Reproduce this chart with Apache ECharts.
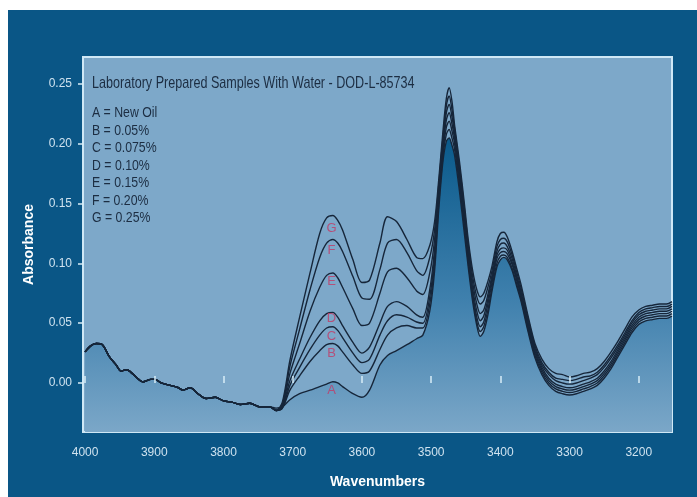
<!DOCTYPE html>
<html>
<head>
<meta charset="utf-8">
<script src="https://cdn.jsdelivr.net/npm/echarts@6/dist/echarts.min.js"></script>
<style>
html,body{margin:0;padding:0;background:#ffffff;}
#chart{width:697px;height:497px;}
</style>
</head>
<body>
<div id="chart"></div>
<script>
var wavenumbers = [4000,3992,3984,3975,3965,3955,3948,3940,3930,3916,3905,3899,3890,3877,3865,3859,3848,3837,3825,3812,3800,3788,3776,3762,3747,3733,
3724,3715,3704,3690,3675,3661,3651,3642,3635,3628,3613,3600,3589,3574,3563,3550,3535,3521,3512,3502,3495,3489,3483,3478,3474,3470,3466,3459,3452,3446,3440,3434,3429,3424,3418,3412,3405,3400,3395,3390,3383,3376,3370,3360,3350,3340,3330,3320,3310,3300,3290,3280,3270,3260,3250,3240,3230,3220,3210,3200,3190,3180,3170,3160,3152];

var seriesA = [0.026,0.031,0.033,0.032,0.022,0.015,0.010,0.011,0.007,0.001,0.003,0.003,0.000,-0.002,-0.004,-0.006,-0.004,-0.009,-0.013,-0.012,-0.015,-0.016,-0.018,-0.017,-0.020,-0.020,
-0.021,-0.020,-0.014,-0.009,-0.006,-0.003,-0.001,0.001,0.000,-0.003,-0.009,-0.012,-0.006,0.015,0.023,0.027,0.032,0.037,0.040,0.060,0.094,0.145,0.185,0.202,0.205,0.199,0.190,0.160,0.125,0.095,0.068,0.048,0.039,0.043,0.057,0.077,0.097,0.103,0.105,0.103,0.094,0.080,0.068,0.043,0.021,0.007,-0.002,-0.007,-0.009,-0.010,-0.009,-0.007,-0.005,-0.002,0.004,0.012,0.022,0.032,0.042,0.049,0.052,0.053,0.054,0.054,0.056];

var seriesB = [0.026,0.031,0.033,0.032,0.022,0.015,0.010,0.011,0.007,0.001,0.003,0.003,0.000,-0.002,-0.004,-0.006,-0.004,-0.009,-0.013,-0.012,-0.015,-0.016,-0.018,-0.017,-0.020,-0.020,
-0.023,-0.021,-0.006,0.006,0.018,0.027,0.032,0.033,0.031,0.026,0.015,0.008,0.010,0.028,0.040,0.046,0.048,0.046,0.046,0.066,0.100,0.150,0.189,0.208,0.212,0.205,0.195,0.165,0.130,0.099,0.072,0.051,0.043,0.047,0.061,0.080,0.100,0.106,0.107,0.105,0.096,0.082,0.070,0.045,0.023,0.009,0.000,-0.005,-0.007,-0.008,-0.007,-0.005,-0.003,0.000,0.006,0.014,0.024,0.034,0.044,0.051,0.054,0.055,0.056,0.056,0.058];

var seriesC = [0.026,0.031,0.033,0.032,0.022,0.015,0.010,0.011,0.007,0.001,0.003,0.003,0.000,-0.002,-0.004,-0.006,-0.004,-0.009,-0.013,-0.012,-0.015,-0.016,-0.018,-0.017,-0.020,-0.020,
-0.023,-0.021,-0.002,0.013,0.028,0.040,0.046,0.047,0.044,0.038,0.025,0.017,0.020,0.040,0.052,0.057,0.055,0.051,0.050,0.072,0.106,0.154,0.193,0.214,0.219,0.211,0.200,0.169,0.134,0.102,0.075,0.055,0.047,0.051,0.066,0.084,0.104,0.109,0.110,0.108,0.099,0.085,0.072,0.047,0.025,0.011,0.002,-0.003,-0.005,-0.006,-0.005,-0.003,-0.001,0.002,0.008,0.016,0.026,0.036,0.046,0.053,0.056,0.057,0.058,0.058,0.060];

var seriesD = [0.026,0.031,0.033,0.032,0.022,0.015,0.010,0.011,0.007,0.001,0.003,0.003,0.000,-0.002,-0.004,-0.006,-0.004,-0.009,-0.013,-0.012,-0.015,-0.016,-0.018,-0.017,-0.020,-0.020,
-0.023,-0.020,0.002,0.020,0.038,0.052,0.058,0.059,0.055,0.048,0.034,0.025,0.030,0.050,0.064,0.068,0.064,0.057,0.055,0.078,0.112,0.158,0.197,0.220,0.226,0.217,0.204,0.173,0.138,0.106,0.079,0.060,0.052,0.056,0.070,0.087,0.107,0.112,0.113,0.111,0.101,0.087,0.074,0.049,0.027,0.013,0.004,-0.001,-0.003,-0.004,-0.003,-0.001,0.001,0.004,0.010,0.018,0.028,0.038,0.048,0.055,0.058,0.059,0.060,0.060,0.062];

var seriesE = [0.026,0.031,0.033,0.032,0.022,0.015,0.010,0.011,0.007,0.001,0.003,0.003,0.000,-0.002,-0.004,-0.006,-0.004,-0.009,-0.013,-0.012,-0.015,-0.016,-0.018,-0.017,-0.020,-0.020,
-0.023,-0.019,0.008,0.033,0.060,0.080,0.090,0.092,0.088,0.080,0.062,0.048,0.050,0.075,0.093,0.096,0.088,0.077,0.074,0.092,0.120,0.162,0.201,0.226,0.233,0.223,0.208,0.177,0.142,0.110,0.084,0.066,0.058,0.061,0.074,0.090,0.110,0.116,0.117,0.114,0.104,0.089,0.076,0.051,0.029,0.015,0.007,0.002,0.000,-0.001,0.000,0.002,0.004,0.007,0.013,0.021,0.030,0.040,0.050,0.057,0.060,0.061,0.062,0.062,0.064];

var seriesF = [0.026,0.031,0.033,0.032,0.022,0.015,0.010,0.011,0.007,0.001,0.003,0.003,0.000,-0.002,-0.004,-0.006,-0.004,-0.009,-0.013,-0.012,-0.015,-0.016,-0.018,-0.017,-0.020,-0.020,
-0.023,-0.018,0.014,0.045,0.078,0.105,0.117,0.120,0.117,0.110,0.089,0.071,0.070,0.095,0.117,0.120,0.109,0.094,0.090,0.105,0.128,0.166,0.205,0.232,0.240,0.229,0.212,0.181,0.146,0.114,0.089,0.072,0.066,0.069,0.080,0.094,0.114,0.120,0.121,0.118,0.107,0.092,0.079,0.054,0.031,0.017,0.009,0.004,0.003,0.002,0.003,0.005,0.006,0.009,0.015,0.023,0.032,0.042,0.052,0.059,0.062,0.063,0.064,0.064,0.066];

var seriesG = [0.026,0.031,0.033,0.032,0.022,0.015,0.010,0.011,0.007,0.001,0.003,0.003,0.000,-0.002,-0.004,-0.006,-0.004,-0.009,-0.013,-0.012,-0.015,-0.016,-0.018,-0.017,-0.020,-0.020,
-0.023,-0.016,0.019,0.055,0.092,0.125,0.138,0.140,0.136,0.128,0.103,0.084,0.086,0.117,0.139,0.135,0.120,0.105,0.104,0.115,0.135,0.170,0.210,0.238,0.247,0.236,0.215,0.185,0.150,0.118,0.094,0.078,0.072,0.075,0.085,0.098,0.118,0.125,0.126,0.122,0.110,0.095,0.082,0.056,0.033,0.020,0.012,0.008,0.007,0.005,0.006,0.008,0.009,0.012,0.018,0.026,0.035,0.045,0.055,0.061,0.064,0.065,0.066,0.066,0.068];

var curveLetters = ['A','B','C','D','E','F','G'];
var letterX = [3644,3644,3644,3644,3644,3644,3644];
var letterY = [-0.006,0.025,0.039,0.054,0.085,0.111,0.129];

var legendLines = ['A = New Oil','B = 0.05%','C = 0.075%','D = 0.10%','E = 0.15%','F = 0.20%','G = 0.25%'];
var titleText = 'Laboratory Prepared Samples With Water - DOD-L-85734';
var xTicks = [4000,3900,3800,3700,3600,3500,3400,3300,3200];
var yTicks = [0.00,0.05,0.10,0.15,0.20,0.25];

var FONT = '"Liberation Sans","Arial",sans-serif';

function pairs(arr){ return wavenumbers.map(function(w,i){ return [w, arr[i]]; }); }

var chart = echarts.init(document.getElementById('chart'), null, {renderer:'canvas'});

var lineColor = '#16263a';
var allSeries = [seriesA,seriesB,seriesC,seriesD,seriesE,seriesF,seriesG];
var series = allSeries.map(function(arr, i){
  var s = {
    name: curveLetters[i],
    type: 'line',
    data: pairs(arr),
    showSymbol: false,
    smooth: 0.3,
    lineStyle: {color: lineColor, width: 1.4},
    z: 3 + i,
    silent: true
  };
  if (i === 0) {
    s.areaStyle = {
      origin: 'start',
      color: new echarts.graphic.LinearGradient(0,0,0,1,[
        {offset:0, color:'#0a5a8b'},
        {offset:0.55, color:'#3f80ad'},
        {offset:1, color:'#7ba7c8'}
      ]),
      opacity: 1
    };
  }
  return s;
});

series.push({
  type: 'scatter',
  symbolSize: 0,
  z: 20,
  silent: true,
  data: curveLetters.map(function(l,i){ return [letterX[i], letterY[i], l]; }),
  label: {
    show: true,
    position: 'inside',
    formatter: function(p){ return p.value[2]; },
    color: '#c23a66',
    fontFamily: FONT,
    fontSize: 13
  }
});

var graphics = [
  {type:'rect', shape:{x:8,y:10,width:689,height:487}, style:{fill:'#0a5686'}, z:-10, silent:true},
  {type:'text', x: 92, y: 83, scaleX: 0.74, z: 50, silent:true,
   style:{text: titleText, fill:'#1c2d42', font: '17px ' + FONT, verticalAlign:'middle', align:'left'}}
];
legendLines.forEach(function(t,i){
  graphics.push({type:'text', x: 92, y: 113 + i*17.5, scaleX: 0.82, z: 50, silent:true,
    style:{text: t, fill:'#1c2d42', font: '15px ' + FONT, verticalAlign:'middle', align:'left'}});
});

chart.setOption({
  animation: false,
  backgroundColor: 'transparent',
  graphic: graphics,
  grid: {left: 83, right: 25, top: 57, bottom: 65, show: true, backgroundColor: '#7da8c9', borderColor: '#cfe8f6', borderWidth: 2, z: 0},
  xAxis: {
    type: 'value', inverse: true, min: 3152, max: 4003, z: 30,
    name: 'Wavenumbers', nameLocation: 'middle', nameGap: 43,
    nameTextStyle: {color: '#ffffff', fontWeight: 'bold', fontSize: 14, fontFamily: FONT},
    axisLine: {show: false},
    splitLine: {show: false},
    axisTick: {show: true, inside: true, length: 7, lineStyle: {color: '#d8edf8', width: 1.5}, customValues: xTicks},
    axisLabel: {color: '#cfe2ef', fontSize: 12, fontFamily: FONT, margin: 15, customValues: xTicks,
      formatter: function(v){ return String(v); }}
  },
  yAxis: {
    type: 'value', min: -0.041, max: 0.2726, z: 30,
    name: 'Absorbance', nameLocation: 'middle', nameGap: 47, nameRotate: 90,
    nameTextStyle: {color: '#ffffff', fontWeight: 'bold', fontSize: 14, fontFamily: FONT},
    axisLine: {show: false},
    splitLine: {show: false},
    axisTick: {show: true, inside: false, length: 5, lineStyle: {color: '#d8edf8', width: 1.5}, customValues: yTicks},
    axisLabel: {color: '#cfe2ef', fontSize: 12, fontFamily: FONT, margin: 11, customValues: yTicks,
      formatter: function(v){ return v.toFixed(2); }}
  },
  series: series
});
</script>
</body>
</html>
